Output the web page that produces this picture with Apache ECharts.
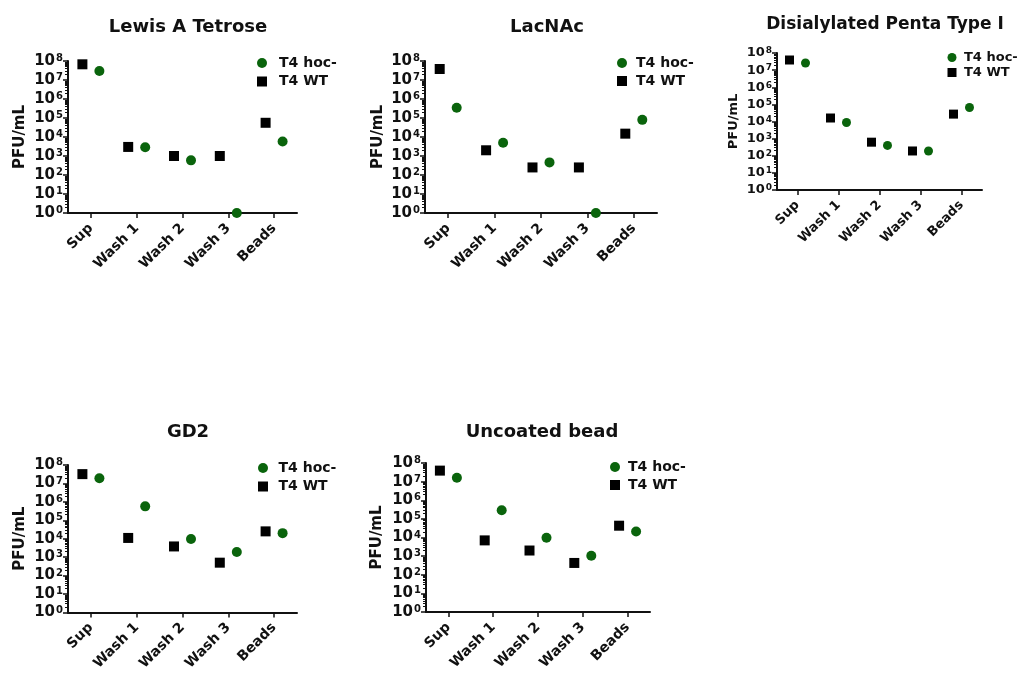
<!DOCTYPE html>
<html>
<head>
<meta charset="utf-8">
<script src="https://cdn.jsdelivr.net/npm/echarts@6/dist/echarts.min.js"></script>
<style>
html,body{margin:0;padding:0;background:#fff;}
#main{width:1021px;height:673px;}
</style>
</head>
<body>
<div id="main"></div>
<script>
// ---------- DATA ----------
var categories = ['Sup', 'Wash 1', 'Wash 2', 'Wash 3', 'Beads'];
var panelTitles = ['Lewis A Tetrose', 'LacNAc', 'Disialylated Penta Type I', 'GD2', 'Uncoated bead'];
var seriesNames = ['T4 hoc-', 'T4 WT'];
var yAxisTitle = 'PFU/mL';
var yTickValues = [1, 10, 100, 1000, 1e4, 1e5, 1e6, 1e7, 1e8];

var lewisHoc = [3.0e7, 2.9e3, 590, 1, 5.8e3];
var lewisWT  = [6.7e7, 3.0e3, 1.0e3, 1.0e3, 5.6e4];
var lacHoc   = [3.5e5, 5.0e3, 460, 1, 8.0e4];
var lacWT    = [3.8e7, 2.0e3, 250, 250, 1.5e4];
var diHoc    = [2.6e7, 8.7e3, 400, 190, 6.6e4];
var diWT     = [3.9e7, 1.6e4, 620, 190, 2.7e4];
var gd2Hoc   = [1.9e7, 5.7e5, 9.6e3, 1.9e3, 2.0e4];
var gd2WT    = [3.2e7, 1.1e4, 3.8e3, 500, 2.5e4];
var uncHoc   = [1.6e7, 2.9e5, 9.8e3, 1050, 2.1e4];
var uncWT    = [3.9e7, 7.0e3, 2.0e3, 430, 4.3e4];

var hocData = [lewisHoc, lacHoc, diHoc, gd2Hoc, uncHoc];
var wtData  = [lewisWT, lacWT, diWT, gd2WT, uncWT];

// ---------- LAYOUT / STYLE ----------
var FONT = '"DejaVu Sans", "Liberation Sans", Arial, sans-serif';
var GREEN = '#0a640c';
var INK = '#111';
var layouts = [
  {grid:{left:68, top:61, width:229, height:152}, title:[183,24,18], legend:{cx:262, cy:63, d:17, gap:18.5, fs:14}, xfs:14, tick:15, sup:10, nfs:15, nameGap:40, sym:10, off:8.5},
  {grid:{left:425, top:61, width:232, height:152}, title:[542,24,18], legend:{cx:622, cy:63, d:14, gap:18, fs:14}, xfs:14, tick:15, sup:10, nfs:15, nameGap:39, sym:10, off:8.5},
  {grid:{left:777, top:53, width:205, height:137}, title:[880,21,17], legend:{cx:952, cy:57.5, d:12, gap:15, fs:13}, xfs:13, tick:13, sup:9, nfs:13, nameGap:37, sym:9, off:8},
  {grid:{left:68, top:465, width:229, height:153}, title:[183,429,18], legend:{cx:263, cy:468, d:15.5, gap:18.5, fs:14}, xfs:14, tick:15, sup:10, nfs:15, nameGap:40, sym:10, off:8.5},
  {grid:{left:426, top:463, width:224, height:149}, title:[537,429,18], legend:{cx:615, cy:467, d:13, gap:18, fs:14}, xfs:14, tick:15, sup:10, nfs:15, nameGap:41, sym:10, off:8.5}
];

var minorValues = [];
for (var n = 0; n < 8; n++) {
  for (var k = 2; k <= 9; k++) minorValues.push(k * Math.pow(10, n));
}

var option = {
  backgroundColor: '#fff',
  animation: false,
  title: [], legend: [], grid: [], xAxis: [], yAxis: [], series: []
};

layouts.forEach(function (L, i) {
  option.grid.push({left:L.grid.left, top:L.grid.top, width:L.grid.width, height:L.grid.height, containLabel:false});
  option.title.push({
    text: panelTitles[i], left: L.title[0], top: L.title[1] - L.title[2] * 0.6, textAlign: 'center',
    textStyle: {fontFamily: FONT, fontWeight: 'bold', fontSize: L.title[2], color: INK}
  });
  var lh = L.legend.fs * 1.1;
  option.legend.push({
    data: seriesNames.slice(), orient: 'vertical', padding: 0,
    left: L.legend.cx - L.sym / 2, top: L.legend.cy - lh / 2,
    itemWidth: L.sym, itemHeight: L.sym, itemGap: L.legend.gap - lh,
    textStyle: {fontFamily: FONT, fontWeight: 'bold', fontSize: L.legend.fs, color: INK, lineHeight: lh,
                padding: [0, 0, 0, Math.max(0, L.legend.d - L.sym / 2 - 5)]},
    selectedMode: false
  });
  option.xAxis.push({
    type: 'category', gridIndex: i, data: categories, boundaryGap: true,
    axisLine: {show: true, onZero: false, lineStyle: {color: INK, width: 2}},
    axisTick: {show: true, alignWithLabel: true, length: 5, lineStyle: {color: INK, width: 1.5}},
    axisLabel: {interval: 0, rotate: 45, margin: 13, fontFamily: FONT, fontWeight: 'bold', fontSize: L.xfs, color: INK},
    splitLine: {show: false}
  });
  option.yAxis.push({
    type: 'log', logBase: 10, gridIndex: i, min: 1, max: 1e8, position: 'left',
    name: yAxisTitle, nameLocation: 'middle', nameGap: L.nameGap,
    nameTextStyle: {fontFamily: FONT, fontWeight: 'bold', fontSize: L.nfs, color: INK},
    axisLine: {show: true, lineStyle: {color: INK, width: 2}},
    axisTick: {show: true, length: 5, customValues: yTickValues, lineStyle: {color: INK, width: 1.5}},
    axisLabel: {
      show: true, margin: 5, customValues: yTickValues,
      formatter: function (v) { return '{b|10}{s|' + Math.round(Math.log10(v)) + '}'; },
      rich: {
        b: {fontFamily: FONT, fontWeight: 'bold', fontSize: L.tick, color: INK, lineHeight: L.tick},
        s: {fontFamily: FONT, fontWeight: 'bold', fontSize: L.sup, color: INK, verticalAlign: 'top', lineHeight: L.tick, padding: [0, 0, 6, 1]}
      }
    },
    splitLine: {show: false}
  });
  option.yAxis.push({
    type: 'log', logBase: 10, gridIndex: i, min: 1, max: 1e8, position: 'left',
    axisLine: {show: false},
    axisTick: {show: true, length: 3, customValues: minorValues, lineStyle: {color: INK, width: 1}},
    axisLabel: {show: false},
    splitLine: {show: false}
  });
  option.series.push({
    type: 'scatter', name: seriesNames[0], xAxisIndex: i, yAxisIndex: 2 * i,
    data: hocData[i], symbol: 'circle', symbolSize: L.sym, symbolOffset: [L.off, 0],
    itemStyle: {color: GREEN, opacity: 1}, clip: false, z: 5
  });
  option.series.push({
    type: 'scatter', name: seriesNames[1], xAxisIndex: i, yAxisIndex: 2 * i,
    data: wtData[i], symbol: 'square', symbolSize: L.sym, symbolOffset: [-L.off, 0],
    itemStyle: {color: '#000', opacity: 1}, clip: false, z: 5
  });
});

var chart = echarts.init(document.getElementById('main'), null, {renderer: 'canvas'});
chart.setOption(option);
</script>
</body>
</html>
